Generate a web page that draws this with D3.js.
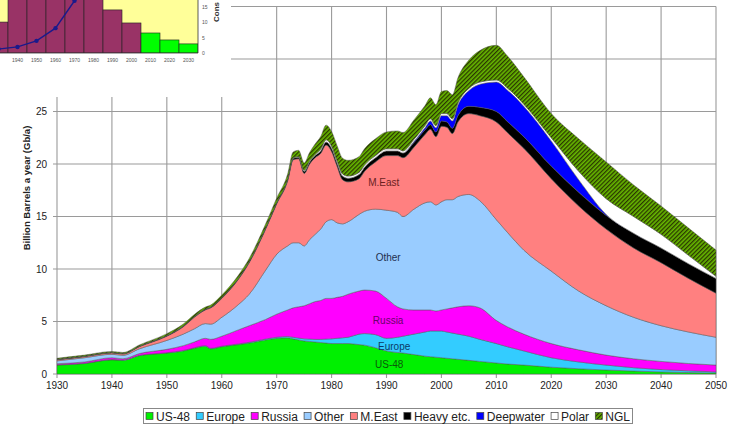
<!DOCTYPE html>
<html>
<head>
<meta charset="utf-8">
<script src="https://cdn.jsdelivr.net/npm/d3@7"></script>
<style>
  body { margin: 0; background: #fff; }
  svg { display: block; font-family: "Liberation Sans", Arial, sans-serif; }
</style>
</head>
<body>
<svg id="chart" width="731" height="425"></svg>
<script>
// production by region, Gb/a (layer thickness, bottom to top)
const years = [1930,1935,1940,1942,1945, 1950,1953,1955,1957,1958, 1960,1963,1965,1968,1970,
  1972,1973,1974,1975,1976, 1977,1978,1979,1980,1981, 1982,1983,1985,1986,1988,
  1990,1992,1993,1995,1997, 1998,1999,2000,2001,2002, 2003,2005,2007,2010,2012,
  2015,2020,2025,2030,2035, 2040,2045,2050];

const us48 = [0.85,1.0,1.35,1.3,1.75, 2.0,2.2,2.45,2.65,2.4, 2.6,2.8,2.95,3.25,3.4,
  3.45,3.35,3.25,3.15,3.1, 3.05,3.0,2.95,2.9,2.9, 2.9,2.9,2.8,2.75,2.5,
  2.2,2.05,2.0,1.85,1.7, 1.65,1.6,1.55,1.5,1.45, 1.4,1.3,1.2,1.05,0.95,
  0.85,0.65,0.5,0.38,0.28, 0.2,0.14,0.1];
const europe = [0.03,0.03,0.03,0.03,0.03, 0.03,0.04,0.05,0.05,0.05, 0.05,0.06,0.07,0.08,0.1,
  0.12,0.15,0.17,0.2,0.23, 0.25,0.3,0.38,0.45,0.5, 0.55,0.6,1.0,1.1,1.25,
  1.2,1.45,1.6,1.95,2.3, 2.45,2.5,2.55,2.5,2.45, 2.4,2.3,2.1,1.85,1.65,
  1.35,0.9,0.65,0.47,0.32, 0.22,0.16,0.1];
const russia = [0.1,0.12,0.17,0.12,0.17, 0.32,0.46,0.55,0.7,0.85, 0.95,1.34,1.58,1.87,2.2,
  2.53,2.8,2.98,3.15,3.37, 3.6,3.7,3.87,3.85,3.9, 3.95,4.1,4.1,4.15,4.15,
  3.8,2.9,2.6,2.3,2.1, 2.0,1.9,2.0,2.2,2.4, 2.6,2.9,3.0,2.2,1.9,
  1.6,1.35,1.15,0.95,0.85, 0.78,0.7,0.65];
const other = [0.27,0.4,0.33,0.33,0.45, 0.85,1.1,1.25,1.4,1.45, 1.8,2.4,3.0,4.7,5.7,
  6.1,6.2,6.1,5.7,6.1, 6.4,6.8,7.3,7.5,7.1, 6.9,6.9,7.3,7.5,7.8,
  8.4,9.0,8.8,9.6,10.2, 10.3,10.1,10.3,10.4,10.3, 10.5,10.6,10.2,9.6,9.0,
  8.0,6.9,5.6,4.7,3.95, 3.4,3.0,2.65];
const mEast = [0.1,0.1,0.12,0.12,0.2, 0.4,0.7,1.1,1.3,1.55, 1.8,2.4,3.0,3.9,4.8,
  6.2,7.9,8.0,6.9,7.2, 7.3,7.2,7.3,6.5,5.4, 4.2,3.8,3.4,3.8,4.5,
  5.2,5.4,5.6,5.9,6.5, 6.9,6.5,7.2,6.9,6.3, 7.1,7.7,8.1,9.3,9.5,
  9.7,8.8,8.1,7.3,6.6, 6.0,5.1,4.2];
const heavy = [0.05,0.05,0.05,0.05,0.05, 0.06,0.06,0.06,0.07,0.07, 0.07,0.08,0.1,0.1,0.1,
  0.15,0.15,0.15,0.2,0.2, 0.2,0.25,0.3,0.3,0.3, 0.35,0.35,0.4,0.4,0.4,
  0.45,0.45,0.45,0.45,0.45, 0.45,0.45,0.5,0.5,0.5, 0.6,0.7,0.8,1.0,1.05,
  1.1,1.2,1.3,1.3,1.4, 1.4,1.4,1.4];
const deepwater = [0,0,0,0,0, 0,0,0,0,0, 0,0,0,0,0,
  0,0,0,0,0, 0,0,0,0,0, 0,0,0,0,0,
  0,0,0,0.1,0.2, 0.35,0.4,0.5,0.6,0.7, 1.0,1.5,2.2,2.8,3.0,
  2.9,2.4,1.2,0.1,0, 0,0,0];
const polar = [0,0,0,0,0, 0,0,0,0,0, 0,0,0,0,0,
  0,0.05,0.05,0.1,0.1, 0.1,0.15,0.2,0.2,0.2, 0.2,0.2,0.2,0.2,0.2,
  0.2,0.2,0.2,0.2,0.2, 0.2,0.2,0.2,0.2,0.2, 0.2,0.2,0.2,0.2,0.2,
  0.2,0.3,0.8,1.5,1.6, 1.3,0.8,0.2];
const ngl = [0.1,0.1,0.1,0.1,0.12, 0.18,0.2,0.2,0.2,0.2, 0.25,0.3,0.3,0.4,0.45,
  0.5,0.55,0.6,0.7,0.8, 1.0,1.2,1.4,1.4,1.45, 1.5,1.5,1.5,1.55,1.6,
  1.6,1.7,1.75,1.85,1.9, 2.0,2.0,2.1,2.2,2.3, 2.4,2.7,3.0,3.3,3.05,
  2.6,2.3,3.1,3.5,3.0, 2.7,2.6,2.5];

const keys = ['US-48','Europe','Russia','Other','M.East','Heavy etc.','Deepwater','Polar','NGL'];
const seriesValues = [us48, europe, russia, other, mEast, heavy, deepwater, polar, ngl];
const colors = ['#00f000','#33ccff','#ff00ff','#99ccff','#ff8080','#000000','#0000ff','#ffffff','url(#ngl)'];

// labels written inside the areas
const areaLabels = [
  {name: 'M.East', year: 1989.5, value: 18.2, color: '#6b1f1f'},
  {name: 'Other', year: 1990.3, value: 11.1, color: '#1f2f4f'},
  {name: 'Russia', year: 1990.3, value: 5.1, color: '#6a006a'},
  {name: 'Europe', year: 1991.4, value: 2.6, color: '#0b3a66'},
  {name: 'US-48', year: 1990.5, value: 0.95, color: '#0a5a0a'}
];

// small inset (discovery bars and consumption line), cut off at the top-left
const insetDecades = [1930,1940,1950,1960,1970,1980,1990,2000,2010,2020,2030];
const insetBars = [10.2, 28, 34, 44, 41, 25, 14.2, 9.9, 6.6, 4.3, 3.0];
const insetConsumption = [1.3, 2.0, 4.0, 8.2, 17.2, 22.5];
const insetTicks = [0, 5, 10, 15];
const forecastFrom = 2010;

const svg = d3.select('#chart');
const defs = svg.append('defs');

const pat = defs.append('pattern')
  .attr('id', 'ngl')
  .attr('patternUnits', 'userSpaceOnUse')
  .attr('width', 3).attr('height', 3)
  .attr('patternTransform', 'rotate(45)');
pat.append('rect').attr('width', 3).attr('height', 3).attr('fill', '#66b800');
pat.append('rect').attr('width', 1.3).attr('height', 3).attr('fill', '#2a3600');

const x = d3.scaleLinear().domain([1930, 2050]).range([57, 716]);
const y = d3.scaleLinear().domain([0, 35]).range([374, 6.5]);

// grid
const grid = svg.append('g').attr('stroke', '#9a9a9a').attr('stroke-width', 1.1);
grid.selectAll('.h')
  .data(d3.range(0, 36, 5))
  .enter().append('line')
  .attr('x1', 53).attr('x2', 716)
  .attr('y1', d => y(d)).attr('y2', d => y(d));
grid.selectAll('.v')
  .data(d3.range(1930, 2051, 10))
  .enter().append('line')
  .attr('x1', d => x(d)).attr('x2', d => x(d))
  .attr('y1', y(35)).attr('y2', 378);

// stacked areas
const table = years.map((yr, i) => {
  const row = {year: yr};
  keys.forEach((k, j) => row[k] = seriesValues[j][i]);
  return row;
});
const stacked = d3.stack().keys(keys)(table);

const area = d3.area()
  .x(d => x(d.data.year))
  .y0(d => y(d[0]))
  .y1(d => y(d[1]))
  .curve(d3.curveMonotoneX);

svg.append('g').selectAll('path')
  .data(stacked)
  .enter().append('path')
  .attr('d', area)
  .attr('fill', (d, i) => colors[i])
  .attr('stroke', '#555')
  .attr('stroke-width', 0.6)
  .attr('stroke-opacity', 0.8);

svg.append('g').selectAll('text')
  .data(areaLabels)
  .enter().append('text')
  .attr('x', d => x(d.year))
  .attr('y', d => y(d.value))
  .attr('dy', '0.35em')
  .attr('text-anchor', 'middle')
  .attr('font-size', 10)
  .attr('fill', d => d.color)
  .text(d => d.name);

// axis labels
svg.append('g').selectAll('text')
  .data(d3.range(0, 26, 5))
  .enter().append('text')
  .attr('x', 47)
  .attr('y', d => y(d))
  .attr('dy', '0.35em')
  .attr('text-anchor', 'end')
  .attr('font-size', 10)
  .attr('fill', '#222')
  .text(d => d);

svg.append('g').selectAll('text')
  .data(d3.range(1930, 2051, 10))
  .enter().append('text')
  .attr('x', d => x(d))
  .attr('y', 389)
  .attr('text-anchor', 'middle')
  .attr('font-size', 10)
  .attr('fill', '#222')
  .text(d => d);

svg.append('text')
  .attr('transform', 'translate(30,188) rotate(-90)')
  .attr('text-anchor', 'middle')
  .attr('font-size', 9.5)
  .attr('font-weight', 'bold')
  .attr('fill', '#222')
  .text('Billion Barrels a year (Gb/a)');

// white patch where the inset picture sits
svg.append('rect')
  .attr('x', 0).attr('y', 0)
  .attr('width', 231).attr('height', 97)
  .attr('fill', '#fff');

// inset
const ix = d3.scaleLinear().domain([1930, 2030]).range([-1.5, 188.5]);
const iy = d3.scaleLinear().domain([0, 15]).range([53, 7.5]);
const barW = ix(1940) - ix(1930);

defs.append('clipPath').attr('id', 'insetClip')
  .append('rect').attr('x', 0).attr('y', 0).attr('width', 198).attr('height', 53);

const inset = svg.append('g');
const plot = inset.append('g').attr('clip-path', 'url(#insetClip)');
plot.append('rect')
  .attr('x', 0).attr('y', 0).attr('width', 198).attr('height', 53)
  .attr('fill', '#ffff99');

plot.selectAll('.bar')
  .data(insetDecades)
  .enter().append('rect')
  .attr('x', d => ix(d) - barW / 2)
  .attr('width', barW)
  .attr('y', (d, i) => iy(insetBars[i]))
  .attr('height', (d, i) => iy(0) - iy(insetBars[i]))
  .attr('fill', d => d >= forecastFrom ? '#00ff00' : '#993366')
  .attr('stroke', '#222')
  .attr('stroke-width', 0.6);

const consumption = insetConsumption.map((v, i) => [insetDecades[i], v]);
plot.append('path')
  .datum(consumption)
  .attr('d', d3.line().x(d => ix(d[0])).y(d => iy(d[1])))
  .attr('fill', 'none')
  .attr('stroke', '#1a1a8c')
  .attr('stroke-width', 1.4);
plot.selectAll('.dot')
  .data(consumption)
  .enter().append('circle')
  .attr('cx', d => ix(d[0]))
  .attr('cy', d => iy(d[1]))
  .attr('r', 2.2)
  .attr('fill', '#1a1a8c');

inset.append('path')
  .attr('d', 'M0,53H198V0')
  .attr('fill', 'none')
  .attr('stroke', '#333')
  .attr('stroke-width', 0.8);

// x labels of the inset (the first one falls off the left edge)
inset.selectAll('.xl')
  .data(insetDecades.filter(d => ix(d) > 8))
  .enter().append('text')
  .attr('x', d => ix(d))
  .attr('y', 62)
  .attr('text-anchor', 'middle')
  .attr('font-size', 5)
  .attr('fill', '#555')
  .text(d => d);

inset.selectAll('.yl')
  .data(insetTicks)
  .enter().append('text')
  .attr('x', 202)
  .attr('y', d => iy(d))
  .attr('dy', '0.35em')
  .attr('font-size', 5)
  .attr('fill', '#555')
  .text(d => d);

inset.append('text')
  .attr('transform', 'translate(219,22) rotate(-90)')
  .attr('font-size', 8)
  .attr('font-weight', 'bold')
  .attr('fill', '#333')
  .text('Cons');

// legend
const legend = svg.append('g');
legend.append('rect')
  .attr('x', 143.5).attr('y', 408.5)
  .attr('width', 489).attr('height', 15)
  .attr('fill', '#fff')
  .attr('stroke', '#888');

const items = legend.selectAll('.item')
  .data(keys)
  .enter().append('g');
items.append('rect')
  .attr('width', 7).attr('height', 7)
  .attr('y', 412.5)
  .attr('fill', (d, i) => colors[i])
  .attr('stroke', '#444')
  .attr('stroke-width', 0.7);
items.append('text')
  .attr('x', 10)
  .attr('y', 420.5)
  .attr('font-size', 12)
  .attr('fill', '#222')
  .text(d => d);

const widths = [];
items.each(function () { widths.push(10 + this.querySelector('text').getComputedTextLength()); });
const gap = (484 - d3.sum(widths)) / (keys.length - 1);
let cx = 146;
items.each(function (d, i) {
  d3.select(this).attr('transform', `translate(${cx},0)`);
  cx += widths[i] + gap;
});
</script>
</body>
</html>
